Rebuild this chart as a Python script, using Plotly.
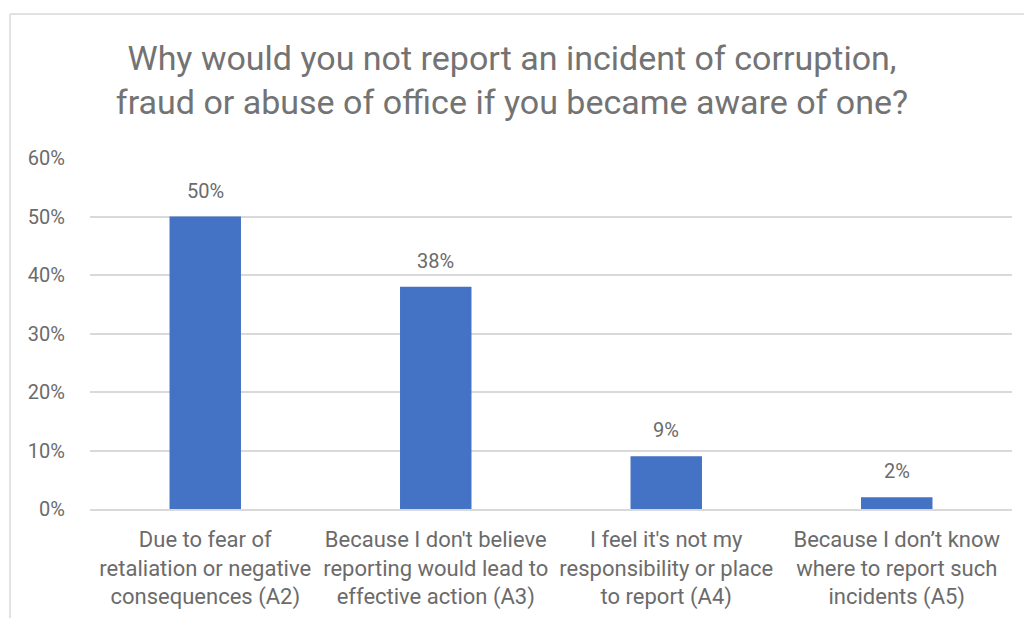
import plotly.graph_objects as go

categories = [
    "Due to fear of<br>retaliation or negative<br>consequences (A2)",
    "Because I don't believe<br>reporting would lead to<br>effective action (A3)",
    "I feel it's not my<br>responsibility or place<br>to report (A4)",
    "Because I don’t know<br>where to report such<br>incidents (A5)",
]
shares = [50, 38, 9, 2]
value_labels = ["50%", "38%", "9%", "2%"]
y_ticks = [0, 10, 20, 30, 40, 50, 60]
y_tick_labels = ["0%", "10%", "20%", "30%", "40%", "50%", "60%"]

title_text = ("Why would you not report an incident of corruption,<br>"
              "fraud or abuse of office if you became aware of one?")

FONT = "Roboto, Arial, sans-serif"
TEXT = "#6b6b6b"
TITLE = "#737373"
GRID = "#d9d9d9"

W, H = 1024, 618
L, R, T, B = 90, 12, 158, 109

fig = go.Figure(go.Bar(
    x=categories,
    y=shares,
    marker=dict(color="#4472C4", line=dict(width=0)),
    hoverinfo="skip",
))

# value labels sitting above each bar
for cat, val, lab in zip(categories, shares, value_labels):
    fig.add_annotation(x=cat, y=val, text=lab, showarrow=False,
                       yanchor="middle", yshift=26,
                       font=dict(family=FONT, size=20, color=TEXT))

# thin frame around the chart area (top and left edges)
pw, ph = W - L - R, H - T - B
fx = (10 - L) / pw
fy = (H - B - 14) / ph
fig.add_shape(type="line", xref="paper", yref="paper",
              x0=fx, x1=(W + 20 - L) / pw, y0=fy, y1=fy,
              line=dict(color=GRID, width=1.5))
fig.add_shape(type="line", xref="paper", yref="paper",
              x0=fx, x1=fx, y0=fy, y1=(H - B - H - 20) / ph,
              line=dict(color=GRID, width=1.5))

fig.update_layout(
    width=W, height=H,
    margin=dict(l=L, r=R, t=T, b=B),
    paper_bgcolor="white",
    plot_bgcolor="white",
    bargap=0.69,
    showlegend=False,
    title=dict(
        text=title_text,
        x=0.5, xanchor="center",
        y=1 - 70 / H, yanchor="middle",
        font=dict(family=FONT, size=34, color=TITLE),
    ),
    xaxis=dict(
        automargin=False,
        showgrid=False,
        showline=True, linecolor=GRID, linewidth=1.5,
        ticks="",
        ticklabelstandoff=10,
        tickfont=dict(family=FONT, size=22, color=TEXT),
    ),
    yaxis=dict(
        automargin=False,
        range=[0, 60],
        tickvals=y_ticks,
        ticktext=y_tick_labels,
        showgrid=True, gridcolor=GRID, gridwidth=1.5,
        zeroline=False,
        showline=False,
        ticks="",
        ticklabelstandoff=24,
        tickfont=dict(family=FONT, size=20, color=TEXT),
    ),
)

fig.write_html("out.html")
